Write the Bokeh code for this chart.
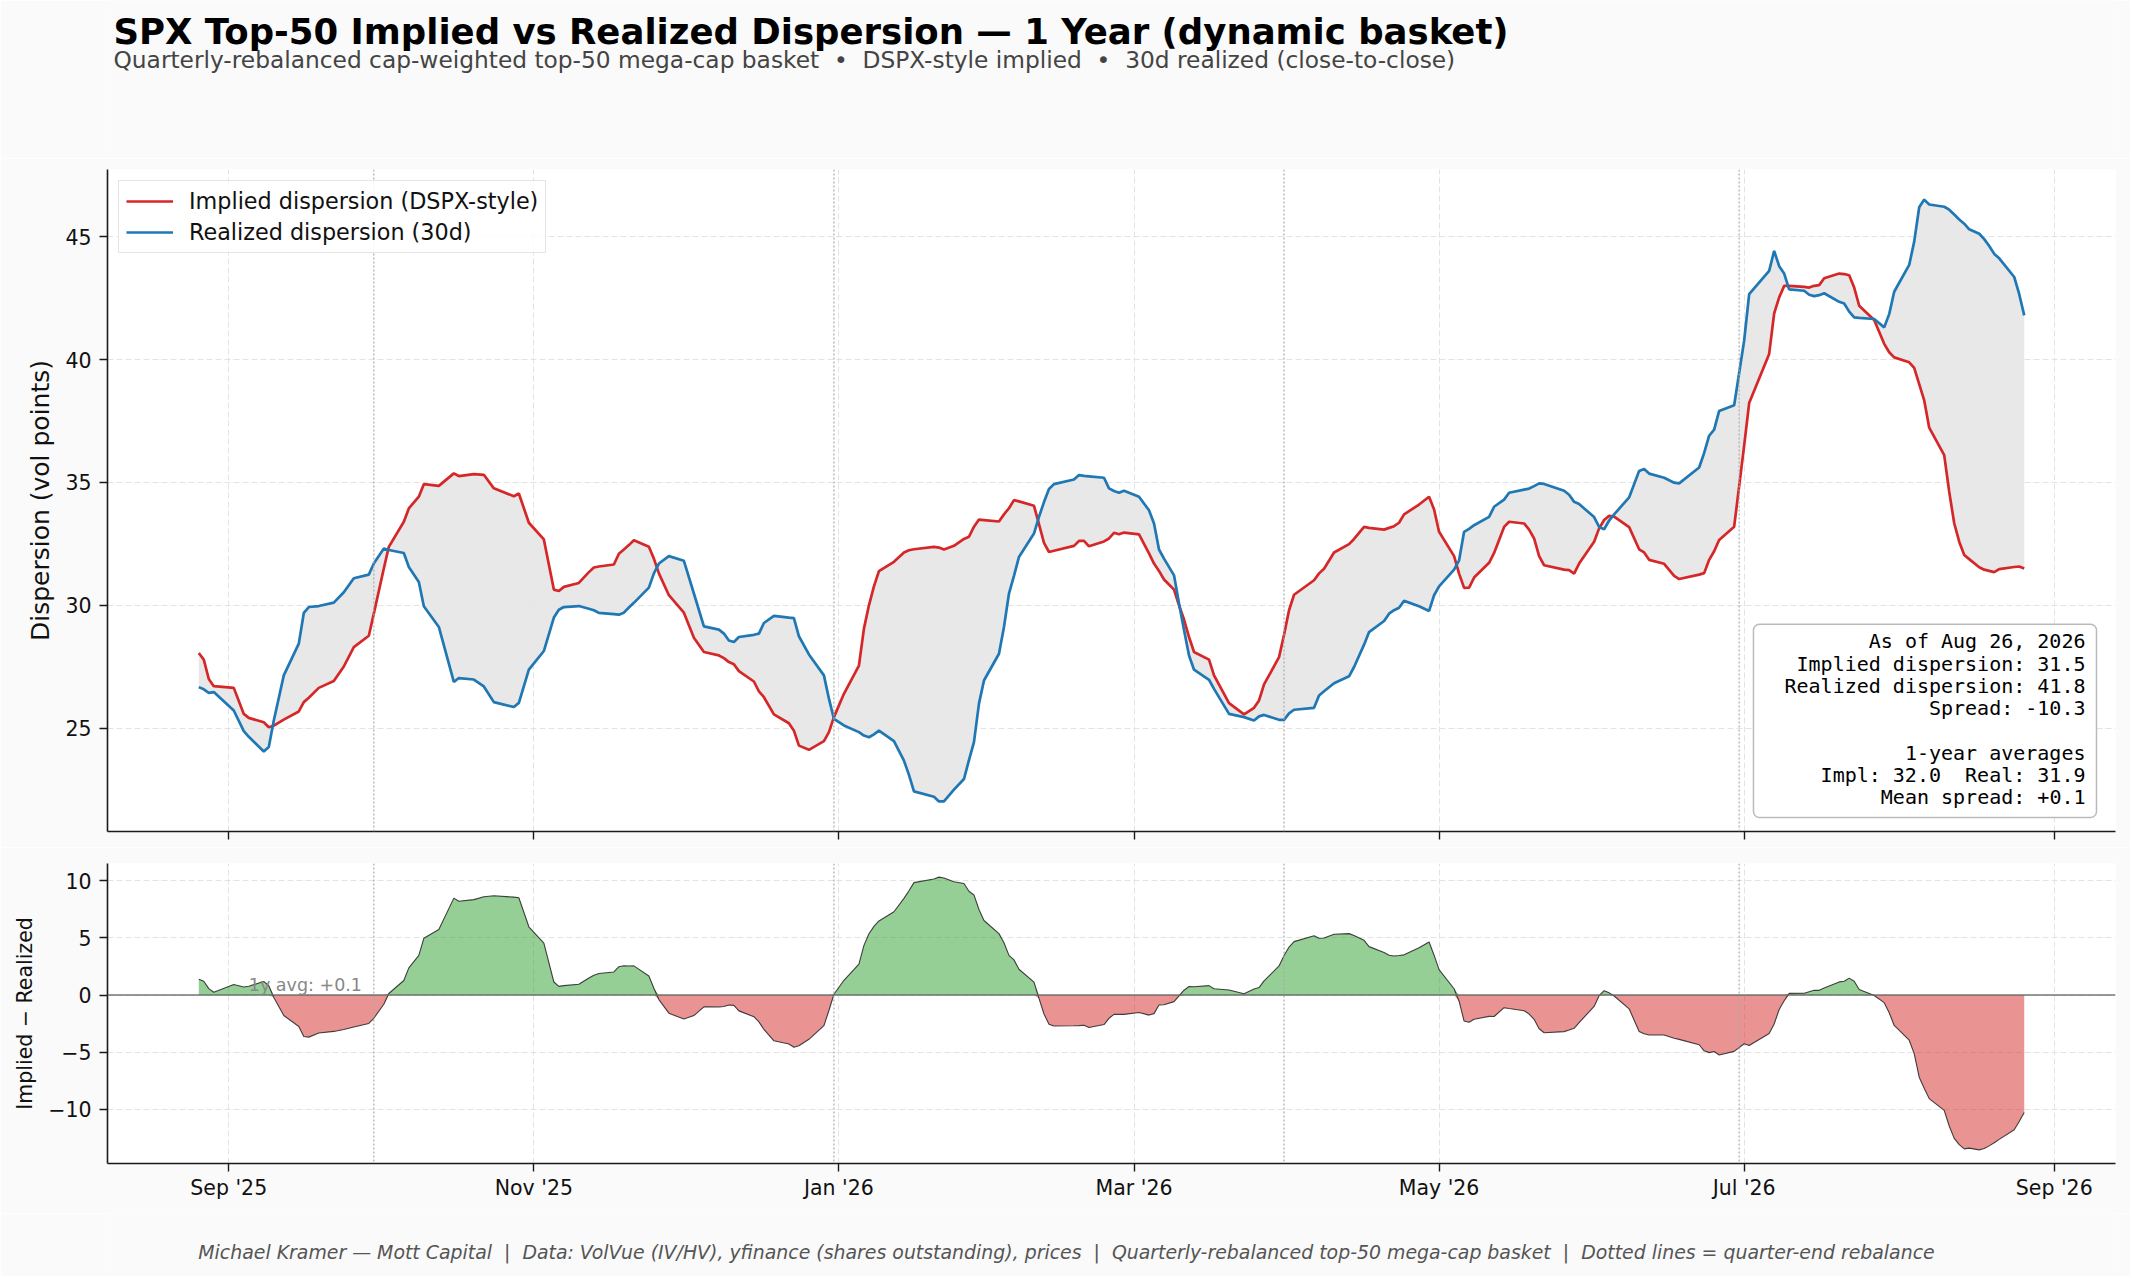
import numpy as np
import pandas as pd
from bokeh.plotting import figure
from bokeh.layouts import column
from bokeh.models import (Range1d, FixedTicker, DatetimeTickFormatter, Span, Label,
                          Legend, LegendItem, ColumnDataSource, CustomJSTickFormatter)
from bokeh.embed import file_html
from bokeh.resources import INLINE
from bokeh.core.properties import value

# ---------------- data ----------------
BASE_DATE = "2025-09-01"   # day offsets below are counted from this date
day_offsets = [-6, -5, -4, -3, 1, 3, 4, 7, 8, 9, 11, 14, 15, 16, 18, 21, 23, 25, 28, 29,
               31, 32, 35, 36, 38, 39, 42, 45, 46, 49, 51, 53, 57, 58, 60, 63, 65, 66, 67, 70,
               72, 73, 74, 77, 78, 79, 80, 81, 84, 85, 86, 88, 91, 93, 95, 98, 99, 100, 101, 102,
               105, 106, 107, 109, 112, 113, 114, 116, 119, 120, 121, 123, 126, 127, 128, 129, 130, 133, 135, 136,
               137, 141, 142, 143, 145, 147, 148, 149, 150, 151, 154, 155, 156, 157, 158, 161, 162, 163, 164, 165,
               169, 170, 171, 172, 175, 176, 177, 178, 179, 182, 184, 185, 186, 187, 189, 190, 191, 192, 193, 196,
               197, 200, 203, 205, 206, 207, 210, 211, 212, 213, 217, 218, 219, 221, 224, 225, 227, 228, 231, 232,
               233, 234, 235, 238, 240, 241, 242, 245, 246, 247, 248, 249, 252, 253, 255, 256, 259, 260, 261, 262,
               263, 267, 268, 269, 270, 273, 274, 275, 276, 277, 280, 282, 283, 284, 287, 289, 290, 294, 295, 296,
               297, 298, 301, 303, 304, 308, 309, 310, 311, 312, 315, 316, 317, 318, 319, 322, 323, 324, 325, 326,
               329, 331, 332, 333, 336, 337, 338, 339, 340, 343, 344, 345, 346, 347, 348, 350, 351, 352, 353, 354,
               357, 358, 359]

implied = [28.06, 27.79, 27.00, 26.71, 26.64, 25.58, 25.42, 25.24, 25.04, 25.10, 25.35, 25.68, 26.06, 26.24, 26.64, 26.92, 27.51, 28.30, 28.76, 29.66,
           31.50, 32.38, 33.40, 33.94, 34.42, 34.93, 34.86, 35.37, 35.26, 35.34, 35.31, 34.76, 34.44, 34.55, 33.36, 32.68, 30.64, 30.58, 30.75, 30.91,
           31.35, 31.54, 31.58, 31.66, 32.10, 32.27, 32.45, 32.65, 32.38, 31.90, 31.30, 30.41, 29.70, 28.68, 28.10, 27.96, 27.85, 27.69, 27.60, 27.32,
           26.90, 26.50, 26.26, 25.56, 25.20, 24.90, 24.29, 24.12, 24.47, 24.84, 25.45, 26.40, 27.55, 29.05, 30.00, 30.77, 31.39, 31.77, 32.15, 32.24,
           32.28, 32.38, 32.35, 32.27, 32.42, 32.70, 32.79, 33.20, 33.49, 33.47, 33.41, 33.70, 33.95, 34.28, 34.23, 34.05, 33.30, 32.54, 32.17, 32.22,
           32.42, 32.62, 32.62, 32.40, 32.60, 32.72, 32.95, 32.89, 32.96, 32.89, 32.11, 31.70, 31.40, 31.05, 30.64, 30.00, 29.42, 28.71, 28.10, 27.79,
           27.15, 26.02, 25.56, 25.83, 26.13, 26.78, 27.89, 28.80, 29.80, 30.43, 31.02, 31.30, 31.49, 32.15, 32.49, 32.70, 33.19, 33.15, 33.08, 33.15,
           33.22, 33.36, 33.70, 34.10, 34.42, 33.90, 32.99, 32.00, 31.29, 30.71, 30.72, 31.13, 31.73, 32.13, 33.19, 33.40, 33.33, 33.08, 32.72, 32.00,
           31.63, 31.45, 31.43, 31.29, 31.70, 32.59, 33.13, 33.47, 33.64, 33.61, 33.18, 32.28, 32.15, 31.85, 31.69, 31.20, 31.07, 31.25, 31.31, 31.85,
           32.20, 32.66, 33.20, 36.50, 38.23, 40.23, 41.88, 42.53, 43.00, 43.00, 42.96, 42.93, 43.00, 43.03, 43.31, 43.50, 43.48, 43.43, 42.93, 42.19,
           41.61, 40.64, 40.30, 40.09, 39.89, 39.66, 39.00, 38.34, 37.23, 36.11, 34.62, 33.34, 32.59, 32.05, 31.88, 31.55, 31.45, 31.40, 31.35, 31.47,
           31.56, 31.58, 31.50]

realized = [26.67, 26.58, 26.44, 26.47, 25.72, 24.88, 24.65, 24.05, 24.23, 25.31, 27.15, 28.44, 29.69, 29.93, 29.97, 30.11, 30.53, 31.10, 31.25, 31.70,
            32.31, 32.25, 32.13, 31.56, 30.95, 29.96, 29.12, 26.88, 27.04, 26.98, 26.70, 26.06, 25.86, 26.03, 27.38, 28.14, 29.50, 29.82, 29.93, 29.97,
            29.86, 29.80, 29.69, 29.64, 29.62, 29.70, 29.91, 30.10, 30.72, 31.30, 31.70, 32.00, 31.81, 30.48, 29.14, 29.01, 28.85, 28.57, 28.51, 28.71,
            28.80, 28.85, 29.28, 29.57, 29.50, 29.48, 28.74, 28.00, 27.15, 26.20, 25.38, 25.11, 24.84, 24.70, 24.63, 24.75, 24.90, 24.47, 23.68, 23.10,
            22.43, 22.21, 22.02, 22.02, 22.50, 22.93, 23.70, 24.43, 26.00, 26.94, 28.03, 29.12, 30.48, 31.20, 31.97, 32.92, 33.60, 34.20, 34.73, 34.93,
            35.12, 35.30, 35.27, 35.25, 35.19, 34.76, 34.65, 34.58, 34.66, 34.42, 33.87, 33.33, 32.27, 31.90, 31.22, 30.07, 29.00, 27.96, 27.38, 26.97,
            26.60, 25.58, 25.45, 25.31, 25.48, 25.54, 25.34, 25.34, 25.60, 25.75, 25.83, 26.33, 26.50, 26.83, 27.11, 27.49, 28.40, 28.91, 29.36, 29.66,
            29.80, 29.90, 30.18, 29.96, 29.77, 30.41, 30.77, 31.45, 31.83, 32.99, 33.11, 33.26, 33.60, 34.01, 34.30, 34.58, 34.71, 34.75, 34.85, 34.96,
            34.94, 34.66, 34.50, 34.21, 34.12, 33.59, 33.19, 33.09, 33.45, 33.70, 34.39, 35.47, 35.55, 35.36, 35.19, 34.99, 34.96, 35.61, 36.20, 36.90,
            37.15, 37.91, 38.14, 40.77, 42.66, 43.61, 44.42, 43.80, 43.50, 42.86, 42.80, 42.64, 42.58, 42.62, 42.70, 42.35, 42.28, 41.95, 41.72, 41.70,
            41.65, 41.31, 41.85, 42.76, 43.85, 44.80, 46.20, 46.51, 46.31, 46.22, 46.10, 45.90, 45.70, 45.53, 45.30, 45.12, 44.90, 44.62, 44.30, 44.12,
            43.36, 42.66, 41.80]

x_tick_dates = ["2025-09-01", "2025-11-01", "2026-01-01", "2026-03-01", "2026-05-01", "2026-07-01", "2026-09-01"]
rebalance_dates = ["2025-09-30", "2025-12-31", "2026-03-31", "2026-06-30"]
y_ticks_top = [25, 30, 35, 40, 45]
y_ticks_bottom = [-10, -5, 0, 5, 10]
as_of_label = "Aug 26, 2026"
avg_implied = 32.0
avg_realized = 31.9
mean_spread = 0.1

NB = "\u00a0"
TITLE = "SPX Top-50 Implied vs Realized Dispersion \u2014 1 Year (dynamic basket)"
SUBTITLE = ("Quarterly-rebalanced cap-weighted top-50 mega-cap basket" + NB * 2 + "\u2022" + NB * 2 +
            "DSPX-style implied" + NB * 2 + "\u2022" + NB * 2 + "30d realized (close-to-close)")
SEP = NB * 2 + "|" + NB * 2
FOOTER = SEP.join(["Michael Kramer \u2014 Mott Capital",
                   "Data: VolVue (IV/HV), yfinance (shares outstanding), prices",
                   "Quarterly-rebalanced top-50 mega-cap basket",
                   "Dotted lines = quarter-end rebalance"])

# ---------------- derived ----------------
dates = pd.Timestamp(BASE_DATE) + pd.to_timedelta(day_offsets, unit="D")
impl = np.array(implied, dtype=float)
real = np.array(realized, dtype=float)
spread = impl - real

src = ColumnDataSource(dict(date=dates, impl=impl, real=real, spread=spread,
                            pos=np.maximum(spread, 0.0), neg=np.minimum(spread, 0.0),
                            zero=np.zeros(len(spread))))


def ms(d):
    return pd.Timestamp(d).value / 1e6


span_ms = ms(dates[-1]) - ms(dates[0])
xr = Range1d(ms(dates[0]) - 0.05 * span_ms, ms(dates[-1]) + 0.05 * span_ms)

lo1, hi1 = min(impl.min(), real.min()), max(impl.max(), real.max())
pad1 = 0.05 * (hi1 - lo1)
lo2, hi2 = spread.min(), spread.max()
pad2 = 0.05 * (hi2 - lo2)

W = 2130
FL, FR = 107, 15          # left / right borders -> frame 107..2115
FW = W - FL - FR          # frame width
HDR_H = 158
TOP_FRAME_H = 662
BOT_FRAME_H = 300
P1_H = 11 + TOP_FRAME_H + 16
P2_H = 16 + BOT_FRAME_H + 50
FTR_H = 1276 - HDR_H - P1_H - P2_H
FONT = "DejaVu Sans"
BG = "#fafafa"
RED = "#d62728"
BLUE = "#1f77b4"
INK = "#1a1a1a"

xticker = FixedTicker(ticks=[ms(d) for d in x_tick_dates])
fmt = "%b '%y"
xfmt = DatetimeTickFormatter(microseconds=fmt, milliseconds=fmt, seconds=fmt, minsec=fmt,
                             minutes=fmt, hourmin=fmt, hours=fmt, days=fmt, months=fmt, years=fmt)


def style(p, yticks):
    p.xaxis.ticker = xticker
    p.xgrid.ticker = xticker
    p.xaxis.formatter = xfmt
    yt = FixedTicker(ticks=yticks)
    p.yaxis.ticker = yt
    p.ygrid.ticker = yt
    for g in (p.xgrid, p.ygrid):
        g.grid_line_color = "#dcdcdc"
        g.grid_line_dash = "6 3"
        g.grid_line_width = 1
        g.grid_line_alpha = 0.8
    p.axis.axis_line_color = INK
    p.axis.axis_line_width = 1.6
    p.axis.major_tick_line_color = INK
    p.axis.major_tick_line_width = 1.4
    p.axis.major_tick_out = 8
    p.axis.major_tick_in = 0
    p.axis.minor_tick_line_color = None
    p.axis.major_label_text_font = FONT
    p.axis.major_label_text_font_size = "20.5px"
    p.axis.major_label_text_color = "#111111"
    p.axis.major_label_standoff = 8
    p.axis.axis_label_text_font = FONT
    p.axis.axis_label_text_font_style = "normal"
    p.axis.axis_label_text_color = "#111111"
    for d in rebalance_dates:
        p.add_layout(Span(location=ms(d), dimension="height", line_color="#aaaaaa",
                          line_dash="2 2", line_width=1.2))


def text_strip(height):
    f = figure(width=W, height=height, x_range=Range1d(0, FW), y_range=Range1d(0, height),
               x_axis_location=None, y_axis_location=None,
               min_border=0, min_border_left=FL, min_border_right=FR,
               min_border_top=0, min_border_bottom=0,
               toolbar_location=None, output_backend="svg",
               background_fill_color=BG, border_fill_color=BG, outline_line_color=None)
    f.grid.visible = False
    return f


# ---------------- header (title + subtitle) ----------------
hdr = text_strip(HDR_H)
hdr.text(x=[113 - FL], y=[HDR_H - 43.3 + 12], text=[TITLE], text_font=value(FONT), text_font_style="bold",
         text_font_size="35.5px", text_color="#000000", text_baseline="alphabetic", text_align="left")
hdr.text(x=[113 - FL], y=[HDR_H - 66 + 7.5], text=[SUBTITLE], text_font=value(FONT), text_font_size="23.3px",
         text_color="#444444", text_baseline="alphabetic", text_align="left")

# ---------------- top panel ----------------
p1 = figure(width=W, height=P1_H, x_axis_type="datetime", x_range=xr,
            y_range=Range1d(lo1 - pad1, hi1 + pad1),
            toolbar_location=None, output_backend="svg",
            min_border_left=FL, min_border_right=FR, min_border_top=11, min_border_bottom=16,
            background_fill_color="white", border_fill_color=BG, outline_line_color=None)
style(p1, y_ticks_top)
p1.xaxis.formatter = CustomJSTickFormatter(code="return ''")
p1.yaxis.axis_label = "Dispersion (vol points)"
p1.yaxis.axis_label_text_font_size = "25px"
p1.yaxis.axis_label_standoff = 7

p1.varea(x="date", y1="impl", y2="real", source=src, fill_color="#e6e6e6", fill_alpha=0.9)
r_impl = p1.line(x="date", y="impl", source=src, line_color=RED, line_width=2.7)
r_real = p1.line(x="date", y="real", source=src, line_color=BLUE, line_width=2.7)

legend = Legend(items=[LegendItem(label="Implied dispersion (DSPX-style)", renderers=[r_impl]),
                       LegendItem(label="Realized dispersion (30d)", renderers=[r_real])],
                location="top_left", margin=11, padding=7, spacing=5,
                glyph_width=47, glyph_height=22, label_height=22, label_standoff=16,
                label_text_font=FONT, label_text_font_size="22.3px", label_text_color="#111111",
                border_line_color="#cccccc", border_line_width=1.5,
                background_fill_color="white", background_fill_alpha=0.85)
p1.add_layout(legend)

info_lines = [f"As of {as_of_label}",
              f"Implied dispersion: {impl[-1]:.1f}",
              f"Realized dispersion: {real[-1]:.1f}",
              f"Spread: {impl[-1] - real[-1]:.1f}",
              NB,
              "1-year averages",
              f"Impl: {avg_implied:.1f}{NB * 2}Real: {avg_realized:.1f}",
              f"Mean spread: {mean_spread:+.1f}"]
info = Label(x=2096 - FL, y=(11 + TOP_FRAME_H) - (817 - HDR_H), x_units="screen", y_units="screen",
             text="\n".join(info_lines),
             text_font="DejaVu Sans Mono", text_font_size="20px", text_color="#000000",
             text_align="right", text_baseline="bottom", text_line_height=0.93,
             background_fill_color="white", background_fill_alpha=0.9,
             border_line_color="#bbbbbb", border_line_width=1.5,
             padding=dict(left=31, right=11, top=5, bottom=8), border_radius=6)
p1.add_layout(info)

# ---------------- bottom panel ----------------
p2 = figure(width=W, height=P2_H, x_axis_type="datetime", x_range=xr,
            y_range=Range1d(lo2 - pad2, hi2 + pad2),
            toolbar_location=None, output_backend="svg",
            min_border_left=FL, min_border_right=FR, min_border_top=16, min_border_bottom=50,
            background_fill_color="white", border_fill_color=BG, outline_line_color=None)
style(p2, y_ticks_bottom)
p2.xaxis.major_label_standoff = 4
p2.yaxis.major_label_overrides = {t: (str(t).replace("-", "\u2212")) for t in y_ticks_bottom}
p2.yaxis.axis_label = "Implied \u2212 Realized"
p2.yaxis.axis_label_text_font_size = "20.5px"
p2.yaxis.axis_label_standoff = 8

p2.varea(x="date", y1="zero", y2="pos", source=src, fill_color="#2ca02c", fill_alpha=0.5)
p2.varea(x="date", y1="zero", y2="neg", source=src, fill_color=RED, fill_alpha=0.5)
p2.line(x="date", y="spread", source=src, line_color="#222222", line_width=1.1, line_alpha=0.85)
p2.add_layout(Span(location=0, dimension="width", line_color="#666666", line_width=1.3, line_alpha=0.9))
p2.add_layout(Label(x=ms(dates[0]) + 10 * 86400000, y=mean_spread + 0.78, text=f"1y avg: {mean_spread:+.1f}",
                    text_font=FONT, text_font_size="17.5px", text_color="#888888",
                    text_baseline="alphabetic", text_align="left"))

# ---------------- footer ----------------
ftr = text_strip(FTR_H)
ftr_top = HDR_H + P1_H + P2_H
ftr.text(x=[1066 - FL], y=[FTR_H - (1251.7 - ftr_top)], text=[FOOTER], text_font=value(FONT),
         text_font_style="italic", text_font_size="18.9px", text_color="#555555",
         text_baseline="middle", text_align="center")

layout = column(hdr, p1, p2, ftr, spacing=0)
open("out.html", "w").write(file_html(layout, INLINE))
